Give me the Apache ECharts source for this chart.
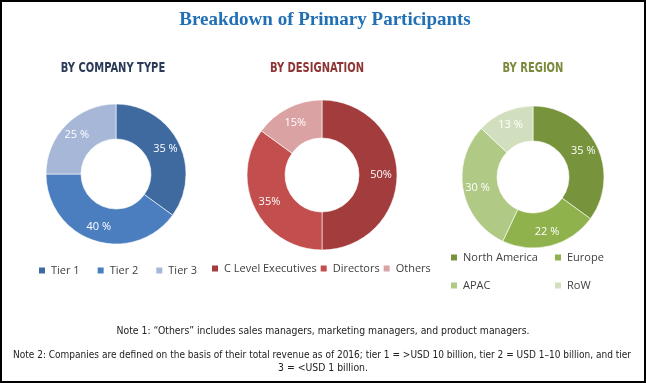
<!DOCTYPE html>
<html><head><meta charset="utf-8">
<script src="https://cdn.jsdelivr.net/npm/echarts@6/dist/echarts.min.js"></script>
<style>html,body{margin:0;padding:0;background:#fff}#c{width:646px;height:383px}</style>
</head><body><div id="c"></div>
<script>
var companyCats = ['Tier 1', 'Tier 2', 'Tier 3'];
var companyVals = [35, 40, 25];
var designationCats = ['C Level Executives', 'Directors', 'Others'];
var designationVals = [50, 35, 15];
var regionCats = ['North America', 'Europe', 'APAC', 'RoW'];
var regionVals = [35, 22, 30, 13];
var titleText = 'Breakdown of Primary Participants';
var subTitles = ['BY COMPANY TYPE', 'BY DESIGNATION', 'BY REGION'];
var note1 = 'Note 1: \u201cOthers\u201d includes sales managers, marketing managers, and product managers.';
var note2a = 'Note 2: Companies are defined on the basis of their total revenue as of 2016; tier 1 = >USD 10 billion, tier 2 = USD 1\u201310 billion, and tier';
var note2b = '3 = <USD 1 billion.';

var companyColors = ['#3e6aa0', '#4a7ebf', '#a6b7d8'];
var designationColors = ['#a33c3c', '#c24f4d', '#dba2a3'];
var regionColors = ['#77933c', '#8fb24c', '#b0c985', '#d2dfbe'];

function mk(cats, vals, colors) {
  return cats.map(function (c, i) { return { name: c, value: vals[i], itemStyle: { color: colors[i] } }; });
}
var legendText = { color: '#404040', fontSize: 11, fontFamily: 'Open Sans' };
function lg(data, left, top, gap) {
  return { data: data, left: left, top: top, padding: 0, itemWidth: 8, itemHeight: 8, itemGap: gap || 10, icon: 'rect', textStyle: legendText, selectedMode: false };
}
function pieSeries(data, center, radius, fmt) {
  return {
    type: 'pie', center: center, radius: radius, startAngle: 90, clockwise: true,
    data: data, silent: true,
    itemStyle: { borderColor: '#ffffff', borderWidth: 0.6 },
    label: { show: true, position: 'inside', color: '#ffffff', fontSize: 11, fontFamily: 'Open Sans', formatter: fmt },
    labelLine: { show: false }, emphasis: { disabled: true }
  };
}
var subFont = 'bold 14px "DejaVu Sans Condensed"';
var noteFont = '11px "DejaVu Sans Condensed"';
var chart = echarts.init(document.getElementById('c'));
chart.setOption({
  animation: false,
  backgroundColor: '#ffffff',
  legend: [
    lg(companyCats, 37, 265, 16),
    lg(designationCats, 210, 263, 2),
    lg([regionCats[0]], 449, 252),
    lg([regionCats[1]], 553, 252),
    lg([regionCats[2]], 449, 280),
    lg([regionCats[3]], 553, 280)
  ],
  series: [
    pieSeries(mk(companyCats, companyVals, companyColors), [116, 174], [35, 70], '{c} %'),
    pieSeries(mk(designationCats, designationVals, designationColors), [322, 175], [37, 75], '{c}%'),
    pieSeries(mk(regionCats, regionVals, regionColors), [533, 177], [36, 71], '{c} %')
  ],
  graphic: [
    { type: 'rect', shape: { x: 1, y: 1, width: 644, height: 381 }, style: { fill: 'none', stroke: '#000', lineWidth: 2 }, silent: true },
    { type: 'text', x: 325, y: 20, style: { text: titleText, fill: '#2170b6', font: 'bold 19px "Liberation Serif"', textAlign: 'center', textVerticalAlign: 'middle' } },
    { type: 'text', x: 113, y: 68, scaleX: 0.79, style: { text: subTitles[0], fill: '#2b3a57', font: subFont, textAlign: 'center', textVerticalAlign: 'middle' } },
    { type: 'text', x: 317, y: 68, scaleX: 0.79, style: { text: subTitles[1], fill: '#8e3535', font: subFont, textAlign: 'center', textVerticalAlign: 'middle' } },
    { type: 'text', x: 533, y: 68, scaleX: 0.79, style: { text: subTitles[2], fill: '#7a8a3c', font: subFont, textAlign: 'center', textVerticalAlign: 'middle' } },
    { type: 'text', x: 323, y: 331, scaleX: 0.94, style: { text: note1, fill: '#222', font: noteFont, textAlign: 'center', textVerticalAlign: 'middle' } },
    { type: 'text', x: 322, y: 355, scaleX: 0.91, style: { text: note2a, fill: '#222', font: noteFont, textAlign: 'center', textVerticalAlign: 'middle' } },
    { type: 'text', x: 323, y: 368, scaleX: 0.94, style: { text: note2b, fill: '#222', font: noteFont, textAlign: 'center', textVerticalAlign: 'middle' } }
  ]
});
</script></body></html>
